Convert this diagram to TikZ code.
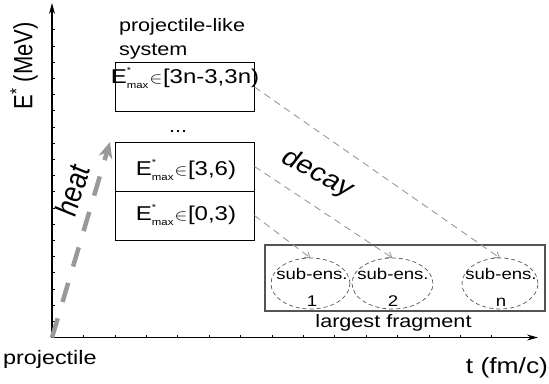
\RequirePackage{fix-cm}
\documentclass[tikz,border=0pt]{standalone}
\usepackage{fontspec}
\setmainfont{Liberation Sans}
\usetikzlibrary{arrows.meta,shapes.geometric}
\newcommand{\fsz}[1]{\fontsize{#1}{#1}\selectfont}
\newcommand{\Emax}{E\rlap{\raisebox{10pt}{\fsz{9}*}}\raisebox{-5pt}{\fsz{9.5}max}\kern1pt{\fsz{16}$\in$}\kern0.5pt}
\definecolor{lgray}{gray}{0.6}
\definecolor{dgray}{gray}{0.33}
\begin{document}
\begin{tikzpicture}[x=1pt,y=-1pt,
  every node/.style={inner sep=0pt, outer sep=0pt},
  wide/.style={xscale=1.2},
  axis/.style={line width=1.1pt, -{Stealth[length=11pt,width=6pt]}},
  tickline/.style={line width=0.6pt},
  ebox/.style={draw=black, line width=1pt, minimum width=139pt, minimum height=49pt},
  etext/.style={wide, anchor=base, font=\fsz{20}},
  lbl/.style={wide, font=\fsz{18}},
  fragbox/.style={draw=dgray, line width=1.2pt, minimum width=280pt, minimum height=66pt},
  subens/.style={draw=dgray, dashed, dash pattern=on 4pt off 3pt, line width=0.7pt, ellipse, minimum height=51pt},
  subtext/.style={wide, anchor=base, font=\fsz{15.5}},
  decayarrow/.style={draw=lgray, line width=0.9pt, dash pattern=on 7pt off 5pt, -{Straight Barb[length=5pt,width=7pt]}},
  heatarrow/.style={draw=lgray, line width=4.5pt, dash pattern=on 20pt off 17pt, -{Stealth[length=16pt,width=14pt,inset=5pt]}}
]
\useasboundingbox (0,0) rectangle (549,383);
% axes
\coordinate (O) at (52,337.5);
\coordinate (ytip) at (52,3);
\coordinate (xtip) at (538,337.5);
\foreach \k in {1,...,19} \draw[tickline] (52,{337.5-16.2*\k}) -- ++(3,0);
\foreach \k in {1,...,14} \draw[tickline] ({52+31.4*\k},337.5) -- ++(0,-3);
\draw[axis] (O) -- (ytip);
\draw[axis] (O) -- (xtip);
\node[xscale=1.2, rotate=90, font=\fsz{22}] (ylab) at (24,66) {E\textsuperscript{*} (MeV)};
\node[wide, anchor=base west, font=\fsz{19.5}] (proj) at (3,364) {projectile};
\node[wide, anchor=base east, font=\fsz{22}] (tlab) at (548,373) {t (fm/c)};
% projectile-like system
\node[lbl, anchor=base west] (pl1) at (119,31) {projectile-like};
\node[lbl, anchor=base west] (pl2) at (119,55) {system};
\node[ebox] (b3) at (185,87) {};
\node[etext] (t3) at (185,83.5) {\Emax[3n-3,3n)};
\node[lbl] (dots) at (178,132) {...};
\node[ebox] (b2) at (185,166.5) {};
\node[etext] (t2) at (186,175) {\Emax[3,6)};
\node[ebox] (b1) at (185,215.5) {};
\node[etext] (t1) at (186,220.5) {\Emax[0,3)};
% largest fragment
\node[fragbox] (frag) at (405,278) {};
\node[lbl, anchor=base] (lf) at (393.5,327) {largest fragment};
\node[subens, minimum width=79pt] (e1) at (310.5,283.5) {};
\node[subens, minimum width=81pt] (e2) at (392.5,283.5) {};
\node[subens, minimum width=76pt] (en) at (500,283.5) {};
\node[subtext] (s1) at (312,279) {sub-ens.};
\node[subtext] (n1) at (312,306) {1};
\node[subtext] (s2) at (393,279) {sub-ens.};
\node[subtext] (n2) at (393,306) {2};
\node[subtext] (sn) at (501,279) {sub-ens.};
\node[subtext] (nn) at (501,306) {n};
% decay
\draw[decayarrow] (b3.east) -- (en.north);
\draw[decayarrow] (b2.east) -- (e2.north);
\draw[decayarrow] (b1.east) -- (e1.north);
\node[xscale=1.2, rotate=-33, font=\fsz{25}] (decay) at (317.5,174) {decay};
% heat
\coordinate (htip) at (110,142);
\draw[heatarrow] (O) -- (htip);
\node[xscale=1.2, rotate=75, font=\itshape\fsz{26}] (heat) at (72.5,191) {heat};
\end{tikzpicture}
\end{document}
